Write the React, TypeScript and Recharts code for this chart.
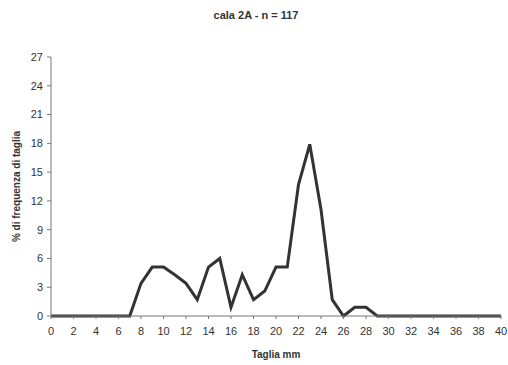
import React from 'react';
import { LineChart, Line, XAxis, YAxis } from 'recharts';

const sizes: number[] = [0,1,2,3,4,5,6,7,8,9,10,11,12,13,14,15,16,17,18,19,20,21,22,23,24,25,26,27,28,29,30,31,32,33,34,35,36,37,38,39,40];
const freq: number[] = [0,0,0,0,0,0,0,0,3.4,5.1,5.1,4.3,3.4,1.7,5.1,6.0,0.9,4.3,1.7,2.6,5.1,5.1,13.7,17.9,11.1,1.7,0,0.9,0.9,0,0,0,0,0,0,0,0,0,0,0,0];
const xTicks: number[] = [0,2,4,6,8,10,12,14,16,18,20,22,24,26,28,30,32,34,36,38,40];
const yTicks: number[] = [0,3,6,9,12,15,18,21,24,27];

const data = sizes.map((s, i) => ({ size: s, pct: freq[i] }));

const font = '"Liberation Sans", Arial, sans-serif';

export default function App() {
  return (
    <div style={{ position: 'absolute', left: 0, top: 0, width: 508, height: 365, background: '#fff' }}>
      <div style={{ position: 'absolute', left: 0, top: 9, width: 512, textAlign: 'center', fontFamily: font, fontWeight: 'bold', fontSize: 11, color: '#333' }}>
        cala 2A - n = 117
      </div>
      <LineChart width={508} height={365} data={data} margin={{ top: 57, right: 7, bottom: 0, left: 0 }}>
        <XAxis
          dataKey="size"
          type="number"
          domain={[0, 40]}
          ticks={xTicks}
          interval={0}
          stroke="#777"
          tickSize={3}
          tickMargin={8}
          height={49}
          tick={{ fill: '#333', fontSize: 11, fontFamily: font }}
          label={{ value: 'Taglia mm', position: 'insideBottom', offset: 7, fill: '#333', fontSize: 10, fontWeight: 'bold', fontFamily: font }}
        />
        <YAxis
          type="number"
          domain={[0, 27]}
          ticks={yTicks}
          interval={0}
          stroke="#777"
          tickSize={4}
          tickMargin={4}
          width={51}
          tick={{ fill: '#333', fontSize: 11, fontFamily: font }}
          label={{ value: '% di frequenza di taglia', angle: -90, position: 'insideLeft', offset: 16, fill: '#333', fontSize: 10, fontWeight: 'bold', fontFamily: font, style: { textAnchor: 'middle' } }}
        />
        <Line type="linear" dataKey="pct" stroke="#333" strokeWidth={3} dot={false} isAnimationActive={false} />
      </LineChart>
    </div>
  );
}
